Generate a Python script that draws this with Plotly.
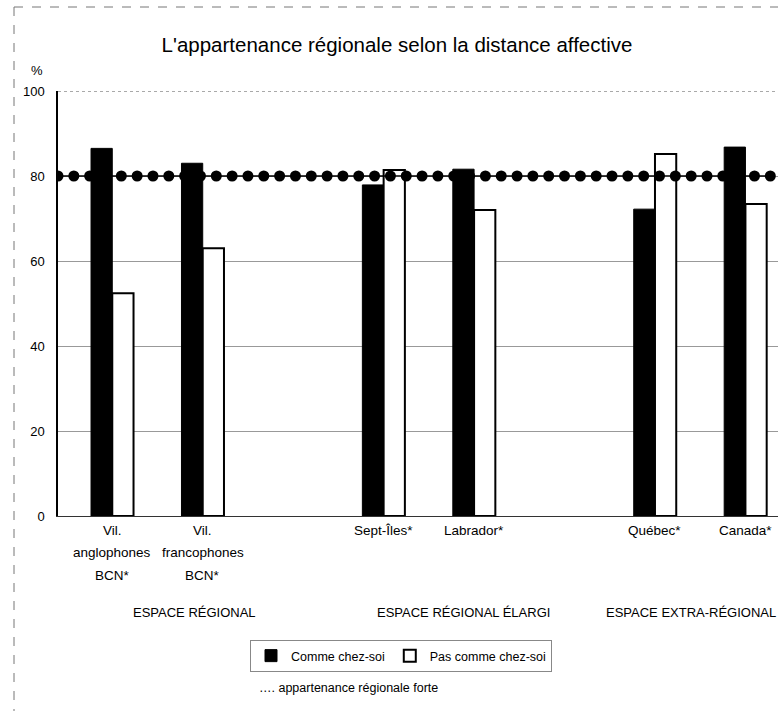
import numpy as np
import plotly.graph_objects as go

# ---- data ----
group_names = ["ESPACE RÉGIONAL", "ESPACE RÉGIONAL ÉLARGI", "ESPACE EXTRA-RÉGIONAL"]
categories = [
    ["Vil.<br>anglophones<br>BCN*", "Vil.<br>francophones<br>BCN*"],
    ["Sept-Îles*", "Labrador*"],
    ["Québec*", "Canada*"],
]
comme_chez_soi = [86.5, 83.0, 77.9, 81.6, 72.2, 86.8]
pas_comme_chez_soi = [52.4, 63.0, 81.4, 72.0, 85.2, 73.4]
threshold = 80
y_ticks = [0, 20, 40, 60, 80, 100]

# ---- layout helpers ----
W, H = 778, 711
PL, PR, PT, PB = 58, 778, 91, 516  # plot area pixels
x_range = [-0.6, 7.36]

def px_x(p):
    return (p - PL) / (PR - PL)

def px_y(p):
    return (PB - p) / (PB - PT)

flat_cats, xpos = [], []
for gi, cats in enumerate(categories):
    for j, c in enumerate(cats):
        flat_cats.append(c)
        xpos.append(gi * 3 + j)

fig = go.Figure()
fig.add_trace(go.Bar(
    x=xpos, y=comme_chez_soi, name="Comme chez-soi",
    marker=dict(color="black", line=dict(color="black", width=1)),
))
fig.add_trace(go.Bar(
    x=xpos, y=pas_comme_chez_soi, name="Pas comme chez-soi",
    marker=dict(color="white", line=dict(color="black", width=2)),
))

# dotted reference line (line with round markers)
dot_x = np.arange(x_range[0], x_range[1] + 0.01, 0.175)
fig.add_trace(go.Scatter(
    x=dot_x, y=[threshold] * len(dot_x), mode="lines+markers",
    line=dict(color="black", width=1.5),
    marker=dict(symbol="circle", size=11, color="black"),
    showlegend=False, hoverinfo="skip", cliponaxis=True,
))

font = "Arial, Liberation Sans, sans-serif"
annotations = []
# category labels, line by line
line_y = [530, 552, 575]
for x, c in zip(xpos, flat_cats):
    for li, part in enumerate(c.split("<br>")):
        annotations.append(dict(
            x=x, y=px_y(line_y[li]), xref="x", yref="paper", text=part,
            showarrow=False, font=dict(family=font, size=13.5, color="black"),
            xanchor="center", yanchor="middle",
        ))
# group labels (left-anchored)
group_label_x = [0.21, 2.906, 5.436]
for gx, g in zip(group_label_x, group_names):
    annotations.append(dict(
        x=gx, y=px_y(612), xref="x", yref="paper", text=g, showarrow=False,
        font=dict(family=font, size=13, color="black"),
        xanchor="left", yanchor="middle",
    ))
# % label
annotations.append(dict(
    x=px_x(37), y=px_y(70), xref="paper", yref="paper", text="%",
    showarrow=False, font=dict(family=font, size=13, color="black"),
    xanchor="center", yanchor="middle",
))
# threshold legend text
annotations.append(dict(
    x=px_x(257), y=px_y(688), xref="paper", yref="paper",
    text="…. appartenance régionale forte", showarrow=False,
    font=dict(family=font, size=12.5, color="black"),
    xanchor="left", yanchor="middle",
))

shapes = [
    dict(type="line", xref="paper", yref="paper", x0=px_x(14), x1=px_x(14),
         y0=px_y(7), y1=px_y(711), line=dict(color="#777", width=1, dash="dash")),
    dict(type="line", xref="paper", yref="paper", x0=px_x(14), x1=px_x(778),
         y0=px_y(7), y1=px_y(7), line=dict(color="#777", width=1, dash="dash")),
    dict(type="line", xref="paper", yref="y", x0=0, x1=1, y0=100, y1=100,
         line=dict(color="#555", width=1, dash="dot"), layer="below"),
]

fig.update_layout(
    width=W, height=H,
    margin=dict(l=PL, r=W - PR, t=PT, b=H - PB, pad=0),
    paper_bgcolor="white", plot_bgcolor="white",
    font=dict(family=font, color="black"),
    title=dict(text="L'appartenance régionale selon la distance affective",
               x=397 / W, xref="container", xanchor="center",
               y=1 - 45 / H, yref="container", yanchor="middle",
               font=dict(family=font, size=20.5, color="black")),
    barmode="group", bargap=0.53, bargroupgap=0,
    showlegend=True,
    legend=dict(orientation="h", x=px_x(250), y=px_y(640), xanchor="left",
                yanchor="top", bordercolor="#888", borderwidth=1,
                font=dict(family=font, size=12.5, color="black"),
                itemwidth=30, tracegroupgap=0),
    annotations=annotations, shapes=shapes,
)
fig.update_xaxes(range=x_range, showticklabels=False, showgrid=False,
                 zeroline=False, showline=True, linecolor="#333", linewidth=1,
                 ticks="")
fig.update_yaxes(range=[0, 100], tickvals=y_ticks, showgrid=True,
                 gridcolor="#999", gridwidth=1, zeroline=False,
                 showline=True, linecolor="black", linewidth=1.5,
                 ticks="", ticklabelstandoff=9,
                 tickfont=dict(family=font, size=13, color="black"))

fig.write_html("out.html", config={"displayModeBar": False},
               post_script="document.body.style.margin='0';document.body.style.overflow='hidden';")
